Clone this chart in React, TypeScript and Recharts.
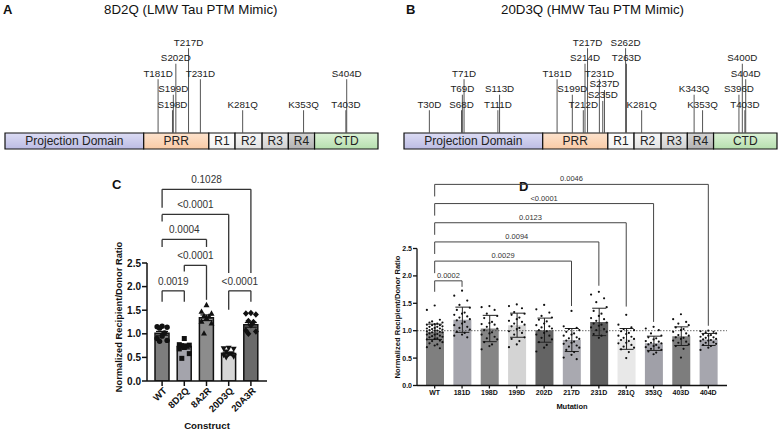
import React from "react";
import {
  Bar,
  Cell,
  ComposedChart,
  ErrorBar,
  ReferenceArea,
  ReferenceLine,
  Scatter,
  XAxis,
  YAxis,
} from "recharts";

const FONT = "'Liberation Sans', Arial, Helvetica, sans-serif";
const INK = "#111";

// ---- Panels A / B: tau domain map (residues 1-441)
const domainNames = ["Projection Domain", "PRR", "R1", "R2", "R3", "R4", "CTD"];
const domainEnds = [164, 241, 272, 304, 335, 366, 441];
const domainTop = ["#dcdcf4", "#fde3cd", "#ffffff", "#f8f8f8", "#ececec", "#d4d4d4", "#dcf2d6"];
const domainBottom = ["#bcbce4", "#f9cba6", "#f2f2f2", "#e2e2e2", "#d0d0d0", "#b2b2b2", "#b6dfae"];

const lmwSites = ["T181D", "S198D", "S199D", "S202D", "T217D", "T231D", "K281Q", "K353Q", "T403D", "S404D"];
const lmwResidues = [181, 198, 199, 202, 217, 231, 281, 353, 403, 404];
const lmwLevels = [3, 1, 2, 4, 5, 3, 1, 1, 1, 3];

const hmwSites = [
  "T30D", "S68D", "T69D", "T71D", "T111D", "S113D", "T181D", "S199D", "T212D", "S214D", "T217D", "T231D",
  "S235D", "S237D", "S262D", "T263D", "K281Q", "K343Q", "K353Q", "S396D", "S400D", "T403D", "S404D",
];
const hmwResidues = [30, 68, 69, 71, 111, 113, 181, 199, 212, 214, 217, 231, 235, 237, 262, 263, 281, 343, 353, 396, 400, 403, 404];
const hmwLevels = [1, 1, 2, 3, 1, 2, 3, 2, 1, 4, 5, 3, 1.6, 2.3, 5, 4, 1, 2, 1, 2, 4, 1, 3];

// ---- Panel C
const constructs = ["WT", "8D2Q", "8A2R", "20D3Q", "20A3R"];
const constructMeans = [1.01, 0.73, 1.34, 0.58, 1.19];
const constructSem = [0.04, 0.05, 0.06, 0.03, 0.05];
const wtConstruct = [1.16, 1.15, 1.14, 1.12, 1.02, 0.95, 0.9, 0.86, 0.84];
const d2qConstruct = [0.9, 0.77, 0.76, 0.75, 0.74, 0.71, 0.68, 0.58, 0.48];
const a2rConstruct = [1.61, 1.47, 1.43, 1.38, 1.37, 1.33, 1.26, 1.22, 1.01];
const d3qConstruct = [0.7, 0.69, 0.68, 0.62, 0.58, 0.57, 0.55, 0.52, 0.5];
const a3rConstruct = [1.44, 1.43, 1.41, 1.27, 1.25, 1.18, 1.07, 1.05, 1.0];
const constructBrackets = [
  { a: 0, b: 1, top: 1.91, left: 1.68, right: 1.68, p: "0.0019" },
  { a: 1, b: 2, top: 2.45, left: 2.32, right: 1.72, p: "<0.0001" },
  { a: 0, b: 2, top: 3.0, left: 2.84, right: 2.84, p: "0.0004" },
  { a: 0, b: 3, top: 3.53, left: 3.38, right: 2.29, p: "<0.0001" },
  { a: 0, b: 4, top: 4.06, left: 3.67, right: 2.29, p: "0.1028" },
  { a: 3, b: 4, top: 1.91, left: 1.51, right: 1.68, p: "<0.0001" },
];
const constructFills = ["#7d7d7d", "#a4a4ac", "#8c8c8c", "#d6d6d6", "#6a6a6a"];

// ---- Panel D
const mutations = ["WT", "181D", "198D", "199D", "202D", "217D", "231D", "281Q", "353Q", "403D", "404D"];
const mutationMeans = [0.98, 1.2, 1.04, 1.1, 1.01, 0.83, 1.16, 0.85, 0.77, 0.9, 0.84];
const mutationSd = [0.14, 0.23, 0.24, 0.22, 0.22, 0.21, 0.25, 0.19, 0.13, 0.17, 0.11];
const wtMut = [
  1.46, 1.38, 1.2, 1.17, 1.15, 1.15, 1.13, 1.12, 1.11, 1.1, 1.1, 1.08, 1.07, 1.07, 1.05, 1.04, 1.04, 1.03,
  1.02, 1.01, 1.0, 1.0, 0.99, 0.98, 0.97, 0.97, 0.95, 0.94, 0.93, 0.93, 0.91, 0.9, 0.89, 0.88, 0.86, 0.85,
  0.84, 0.82, 0.81, 0.79, 0.77, 0.75, 0.73, 0.7, 0.68,
];
const mut181 = [1.73, 1.64, 1.55, 1.47, 1.42, 1.38, 1.33, 1.31, 1.29, 1.26, 1.24, 1.21, 1.19, 1.16, 1.13, 1.1, 1.07, 1.05, 1.02, 0.98, 0.96, 0.93, 0.91, 0.88];
const mut198 = [1.45, 1.43, 1.38, 1.31, 1.27, 1.23, 1.16, 1.14, 1.12, 1.11, 1.07, 1.04, 1.01, 0.97, 0.95, 0.93, 0.89, 0.86, 0.84, 0.79, 0.75, 0.72, 0.66];
const mut199 = [1.48, 1.45, 1.41, 1.34, 1.31, 1.29, 1.24, 1.21, 1.18, 1.16, 1.13, 1.11, 1.08, 1.05, 1.03, 0.99, 0.96, 0.93, 0.88, 0.85, 0.81, 0.75, 0.7];
const mut202 = [1.47, 1.39, 1.33, 1.27, 1.24, 1.2, 1.17, 1.13, 1.1, 1.08, 1.06, 1.04, 1.01, 0.99, 0.96, 0.93, 0.91, 0.87, 0.84, 0.79, 0.74, 0.69, 0.62];
const mut217 = [1.36, 1.08, 1.05, 1.03, 1.01, 0.98, 0.95, 0.93, 0.91, 0.88, 0.86, 0.85, 0.82, 0.8, 0.78, 0.76, 0.73, 0.71, 0.69, 0.65, 0.61, 0.56, 0.51, 0.48];
const mut231 = [1.71, 1.66, 1.59, 1.52, 1.43, 1.36, 1.31, 1.27, 1.23, 1.21, 1.18, 1.15, 1.13, 1.11, 1.09, 1.06, 1.03, 1.01, 0.98, 0.94, 0.91, 0.87];
const mut281 = [1.29, 1.11, 1.06, 1.03, 1.01, 0.99, 0.96, 0.94, 0.91, 0.89, 0.87, 0.85, 0.83, 0.81, 0.78, 0.77, 0.74, 0.71, 0.69, 0.66, 0.61, 0.5];
const mut353 = [1.07, 1.04, 1.01, 0.95, 0.91, 0.88, 0.86, 0.84, 0.81, 0.8, 0.78, 0.77, 0.75, 0.74, 0.72, 0.7, 0.69, 0.67, 0.65, 0.62, 0.6, 0.57];
const mut403 = [1.3, 1.21, 1.16, 1.13, 1.1, 1.06, 1.03, 1.01, 0.98, 0.95, 0.92, 0.91, 0.88, 0.87, 0.85, 0.82, 0.8, 0.78, 0.75, 0.72, 0.67, 0.51];
const mut404 = [1.0, 0.99, 0.98, 0.97, 0.95, 0.93, 0.92, 0.91, 0.89, 0.88, 0.87, 0.85, 0.84, 0.83, 0.82, 0.81, 0.79, 0.78, 0.76, 0.74, 0.72, 0.69, 0.65];
const mutationBrackets = [
  { a: 0, b: 1, top: 1.91, left: 1.71, right: 1.8, p: "0.0002" },
  { a: 0, b: 5, top: 2.27, left: 2.05, right: 1.45, p: "0.0029" },
  { a: 0, b: 6, top: 2.62, left: 2.4, right: 1.82, p: "0.0094" },
  { a: 0, b: 7, top: 2.97, left: 2.75, right: 1.44, p: "0.0123" },
  { a: 0, b: 8, top: 3.32, left: 3.1, right: 1.16, p: "<0.0001" },
  { a: 0, b: 10, top: 3.67, left: 3.45, right: 1.09, p: "0.0046" },
];
const mutationFills = ["#7f7f7f", "#a5a5ad", "#858585", "#d4d4d4", "#646464", "#a9a9b0", "#5f5f5f", "#e8e8e8", "#a0a0a8", "#7d7d7d", "#a6a6ae"];

const yTicks = [0, 0.5, 1, 1.5, 2, 2.5];
const BAR_TOP = -0.87;
const BAR_BOTTOM = -1.9;

// spread points sideways inside their bar (layout only)
function spread(groups: number[][], pattern: number[], step: number) {
  return groups.flatMap((vals, g) =>
    vals.map((v, i) => ({ x: g, y: v, dx: pattern[i % pattern.length] * step, g }))
  );
}

function DomainMap({ id, width, right, sites, residues, levels }: any) {
  const rows = sites.map((name: string, i: number) => ({ name, res: residues[i], level: levels[i] }));
  return (
    <ComposedChart width={width} height={160} data={rows} margin={{ top: 0, right, bottom: 0, left: 5 }}>
      <defs>
        {domainNames.map((d, i) => (
          <linearGradient key={d} id={`${id}g${i}`} x1="0" y1="0" x2="0" y2="1">
            <stop offset="0%" stopColor={domainTop[i]} />
            <stop offset="100%" stopColor={domainBottom[i]} />
          </linearGradient>
        ))}
      </defs>
      <XAxis type="number" dataKey="res" domain={[0, 441]} allowDataOverflow hide />
      <YAxis type="number" domain={[-2.61, 7.71]} allowDataOverflow hide />
      {rows.map((r: any) => (
        <ReferenceLine
          key={`m${r.name}`}
          segment={[{ x: r.res, y: BAR_TOP }, { x: r.res, y: r.level - 0.4 }]}
          stroke="#555"
          strokeWidth={1}
        />
      ))}
      {domainNames.map((d, i) => (
        <ReferenceArea
          key={d}
          x1={i === 0 ? 0 : domainEnds[i - 1]}
          x2={domainEnds[i]}
          y1={BAR_BOTTOM}
          y2={BAR_TOP}
          fill={`url(#${id}g${i})`}
          fillOpacity={1}
          stroke={INK}
          strokeWidth={1.2}
          label={{ value: d, position: "center", fontSize: 12, fill: "#222", fontFamily: FONT }}
        />
      ))}
      <Scatter
        dataKey="level"
        isAnimationActive={false}
        shape={(p: any) => (
          <text x={p.cx} y={p.cy} dy="0.36em" textAnchor="middle" fontSize={9.8} fontFamily={FONT} fill="#222">
            {p.payload.name}
          </text>
        )}
      />
    </ComposedChart>
  );
}

function Marker({ cx, cy, kind }: { cx: number; cy: number; kind: number }) {
  if (kind === 0) return <circle cx={cx} cy={cy} r={2.7} fill={INK} />;
  if (kind === 1) return <rect x={cx - 2.5} y={cy - 2.5} width={5} height={5} fill={INK} />;
  if (kind === 2) return <path d={`M${cx},${cy - 3.2}L${cx + 3},${cy + 2.2}L${cx - 3},${cy + 2.2}Z`} fill={INK} />;
  if (kind === 3) return <path d={`M${cx},${cy + 3.2}L${cx + 3},${cy - 2.2}L${cx - 3},${cy - 2.2}Z`} fill={INK} />;
  return <path d={`M${cx},${cy - 3.3}L${cx + 3},${cy}L${cx},${cy + 3.3}L${cx - 3},${cy}Z`} fill={INK} />;
}

function brackets(list: any[], color: string, width: number, fontSize: number, offset: number) {
  return list.flatMap((b, i) => [
    <ReferenceLine key={`bl${i}`} xAxisId="num" ifOverflow="visible" segment={[{ x: b.a, y: b.left }, { x: b.a, y: b.top }]} stroke={color} strokeWidth={width} />,
    <ReferenceLine
      key={`bh${i}`}
      xAxisId="num"
      ifOverflow="visible"
      segment={[{ x: b.a, y: b.top }, { x: b.b, y: b.top }]}
      stroke={color}
      strokeWidth={width}
      label={{ value: b.p, position: "top", offset, fontSize, fill: "#333", fontFamily: FONT }}
    />,
    <ReferenceLine key={`br${i}`} xAxisId="num" ifOverflow="visible" segment={[{ x: b.b, y: b.top }, { x: b.b, y: b.right }]} stroke={color} strokeWidth={width} />,
  ]);
}

function SlantTick(props: any) {
  const { x, y, payload } = props;
  return (
    <text
      transform={`translate(${x + 3},${y + 1}) rotate(-45)`}
      textAnchor="end"
      dy="0.35em"
      fontSize={9.5}
      fontWeight={700}
      fontFamily={FONT}
      fill={INK}
    >
      {payload.value}
    </text>
  );
}

function ConstructChart() {
  const data = constructs.map((name, i) => ({ name, mean: constructMeans[i], err: constructSem[i] }));
  const points = spread([wtConstruct, d2qConstruct, a2rConstruct, d3qConstruct, a3rConstruct], [0, -2, 2, -1, 1], 2.5);
  const axis = { stroke: INK, strokeWidth: 1.5 };
  return (
    <ComposedChart width={190} height={266} data={data} margin={{ top: 98, right: 13, bottom: 0, left: 0 }}>
      <XAxis
        dataKey="name"
        height={50}
        padding={{ left: 4, right: 5 }}
        axisLine={axis}
        tickLine={axis}
        tickSize={5}
        interval={0}
        tick={<SlantTick />}
        label={{ value: "Construct", position: "insideBottom", offset: 2, fontSize: 9.7, fontWeight: 700, fill: INK, fontFamily: FONT }}
      />
      <XAxis xAxisId="num" type="number" dataKey="x" domain={[-0.5, 4.5]} allowDataOverflow hide padding={{ left: 4, right: 5 }} />
      <YAxis
        width={57}
        domain={[0, 2.5]}
        ticks={yTicks}
        allowDataOverflow
        axisLine={axis}
        tickLine={axis}
        tickSize={5}
        tickMargin={1}
        tickFormatter={(v: number) => v.toFixed(1)}
        tick={{ fontSize: 10, fontWeight: 700, fill: INK, fontFamily: FONT }}
        label={{ value: "Normalized Recipient/Donor Ratio", angle: -90, position: "center", dy: -5, fontSize: 9.3, fontWeight: 700, fill: INK, fontFamily: FONT }}
      />
      <Bar dataKey="mean" barSize={14} stroke={INK} strokeWidth={1.5} isAnimationActive={false}>
        {data.map((d, i) => (
          <Cell key={d.name} fill={constructFills[i]} />
        ))}
        <ErrorBar dataKey="err" width={6} stroke={INK} strokeWidth={1.2} isAnimationActive={false} />
      </Bar>
      <Scatter
        xAxisId="num"
        data={points}
        dataKey="y"
        isAnimationActive={false}
        shape={(p: any) => <Marker cx={p.cx + p.payload.dx} cy={p.cy} kind={p.payload.g} />}
      />
      {brackets(constructBrackets, "#333", 1.3, 10, 6)}
    </ComposedChart>
  );
}

function MutationChart() {
  const data = mutations.map((name, i) => ({ name, mean: mutationMeans[i], err: mutationSd[i] }));
  const points = spread(
    [wtMut, mut181, mut198, mut199, mut202, mut217, mut231, mut281, mut353, mut403, mut404],
    [0, -3, 2, -1, 3, -2, 1],
    2.6
  );
  const axis = { stroke: INK, strokeWidth: 1.3 };
  return (
    <ComposedChart width={392} height={266} data={data} margin={{ top: 83.5, right: 53, bottom: 0, left: 0 }}>
      <XAxis
        dataKey="name"
        height={45.5}
        padding={{ left: 4, right: 5 }}
        axisLine={axis}
        tickLine={axis}
        tickSize={3}
        tickMargin={2}
        interval={0}
        tick={{ fontSize: 7, fontWeight: 700, fill: INK, fontFamily: FONT }}
        label={{ value: "Mutation", position: "insideBottom", offset: 22.5, fontSize: 7.5, fontWeight: 700, fill: INK, fontFamily: FONT }}
      />
      <XAxis xAxisId="num" type="number" dataKey="x" domain={[-0.5, 10.5]} allowDataOverflow hide padding={{ left: 4, right: 5 }} />
      <YAxis
        width={29}
        domain={[0, 2.5]}
        ticks={yTicks}
        allowDataOverflow
        axisLine={axis}
        tickLine={axis}
        tickSize={4}
        tickMargin={1}
        tickFormatter={(v: number) => v.toFixed(1)}
        tick={{ fontSize: 7, fontWeight: 700, fill: INK, fontFamily: FONT }}
        label={{ value: "Normalized Recipient/Donor Ratio", angle: -90, position: "center", dx: -5.5, fontSize: 7.6, fontWeight: 700, fill: INK, fontFamily: FONT }}
      />
      <Bar dataKey="mean" barSize={18} isAnimationActive={false}>
        {data.map((d, i) => (
          <Cell key={d.name} fill={mutationFills[i]} />
        ))}
        <ErrorBar dataKey="err" width={7} stroke="#222" strokeWidth={1} isAnimationActive={false} />
      </Bar>
      <ReferenceLine y={1} stroke="#444" strokeWidth={0.8} strokeDasharray="1.5 1.5" />
      <Scatter
        xAxisId="num"
        data={points}
        dataKey="y"
        isAnimationActive={false}
        shape={(p: any) => <circle cx={p.cx + p.payload.dx} cy={p.cy} r={1.1} fill={INK} />}
      />
      {brackets(mutationBrackets, "#444", 1, 7.5, 3)}
    </ComposedChart>
  );
}

const place = (left: number, top: number): React.CSSProperties => ({ position: "absolute", left, top });

export default function App() {
  return (
    <div style={{ position: "absolute", left: 0, top: 0, width: 780, height: 431, background: "#fff", overflow: "hidden" }}>
      <svg width={780} height={431} style={{ position: "absolute", left: 0, top: 0 }} fontFamily={FONT}>
        <text x={3} y={13.5} fontSize={13} fontWeight={700} fill={INK}>A</text>
        <text x={406} y={13.5} fontSize={13} fontWeight={700} fill={INK}>B</text>
        <text x={112} y={188.5} fontSize={13} fontWeight={700} fill={INK}>C</text>
        <text x={519} y={191} fontSize={13} fontWeight={700} fill={INK}>D</text>
        <text x={190.8} y={14} fontSize={13.3} textAnchor="middle" fill={INK}>8D2Q (LMW Tau PTM Mimic)</text>
        <text x={592.5} y={14} fontSize={13.3} textAnchor="middle" fill={INK}>20D3Q (HMW Tau PTM Mimic)</text>
      </svg>
      <div style={place(0, 0)}>
        <DomainMap id="lmw" width={390} right={12} sites={lmwSites} residues={lmwResidues} levels={lmwLevels} />
      </div>
      <div style={place(399, 0)}>
        <DomainMap id="hmw" width={381} right={3} sites={hmwSites} residues={hmwResidues} levels={hmwLevels} />
      </div>
      <div style={place(90, 165)}>
        <ConstructChart />
      </div>
      <div style={place(388, 165)}>
        <MutationChart />
      </div>
    </div>
  );
}
